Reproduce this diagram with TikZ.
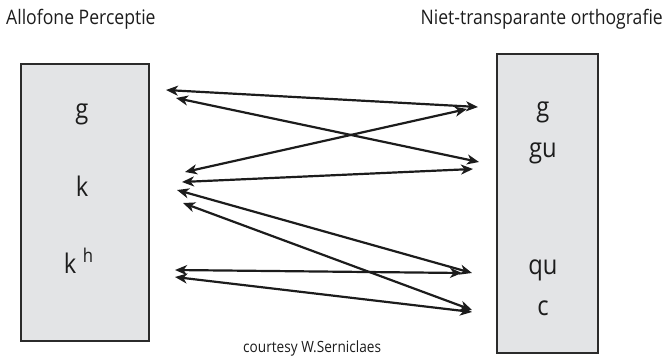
\documentclass[tikz,border=0pt]{standalone}
\usepackage{fontspec}
\setmainfont{Open Sans}[FakeStretch=0.88]
\usetikzlibrary{arrows.meta}
\definecolor{boxfill}{HTML}{E3E4E6}
\definecolor{boxline}{HTML}{2B2B2B}
\definecolor{ink}{HTML}{1C1C1C}
\tikzset{
  panel/.style={draw=boxline, line width=1.5pt, fill=boxfill, inner sep=0pt, anchor=north west},
  title/.style={font=\fontsize{20}{24}\selectfont, text=ink, inner sep=0pt, anchor=base west},
  sym/.style={font=\fontsize{27}{30}\selectfont, text=ink, inner sep=0pt, anchor=base},
  supsym/.style={font=\fontsize{19}{22}\selectfont, text=ink, inner sep=0pt, anchor=base},
  credit/.style={font=\fontsize{15.5}{18}\selectfont, text=ink, inner sep=0pt, anchor=base west},
  biarrow/.style={draw=ink, line width=2.2pt,
    {Stealth[length=12pt,width=10pt,inset=3.5pt]}-{Stealth[length=12pt,width=10pt,inset=3.5pt]}},
}
\begin{document}
\begin{tikzpicture}[x=1pt,y=-1pt]
  \useasboundingbox (0,0) rectangle (665,356);

  % headings
  \node[title] (tl) at (6,24) {Allofone Perceptie};
  \node[title, anchor=base east] (tr) at (663,24) {Niet-transparante orthografie};

  % the two panels
  \node[panel, minimum width=128pt, minimum height=277pt] (lbox) at (20,63) {};
  \node[panel, minimum width=101pt, minimum height=299pt] (rbox) at (496,53) {};

  % perceived allophones
  \node[sym] (lg) at (82,118) {g};
  \node[sym] (lk) at (82,196) {k};
  \node[sym] (lkh) at (70,273) {k};
  \node[supsym] (lh) at (88,262) {h};

  % spellings
  \node[sym] (rg) at (543,116) {g};
  \node[sym] (rgu) at (543,157) {gu};
  \node[sym] (rqu) at (543,274) {qu};
  \node[sym] (rc) at (543,315) {c};

  % arrow end points
  \coordinate (a1l) at (166,90);  \coordinate (a1r) at (478,107);
  \coordinate (a2l) at (176,98);  \coordinate (a2r) at (479,162);
  \coordinate (a3l) at (185,172); \coordinate (a3r) at (467,109);
  \coordinate (a4l) at (182,182); \coordinate (a4r) at (473,169);
  \coordinate (a5l) at (177,190); \coordinate (a5r) at (472,273);
  \coordinate (a6l) at (183,203); \coordinate (a6r) at (472,310);
  \coordinate (a7l) at (175,270); \coordinate (a7r) at (462,273);
  \coordinate (a8l) at (175,277); \coordinate (a8r) at (472,312);

  \draw[biarrow] (a1l) -- (a1r);
  \draw[biarrow] (a2l) -- (a2r);
  \draw[biarrow] (a3l) -- (a3r);
  \draw[biarrow] (a4l) -- (a4r);
  \draw[biarrow] (a5l) -- (a5r);
  \draw[biarrow] (a6l) -- (a6r);
  \draw[biarrow] (a7l) -- (a7r);
  \draw[biarrow] (a8l) -- (a8r);

  % credit line
  \node[credit] (cr) at (243,352) {courtesy W.Serniclaes};
\end{tikzpicture}
\end{document}
